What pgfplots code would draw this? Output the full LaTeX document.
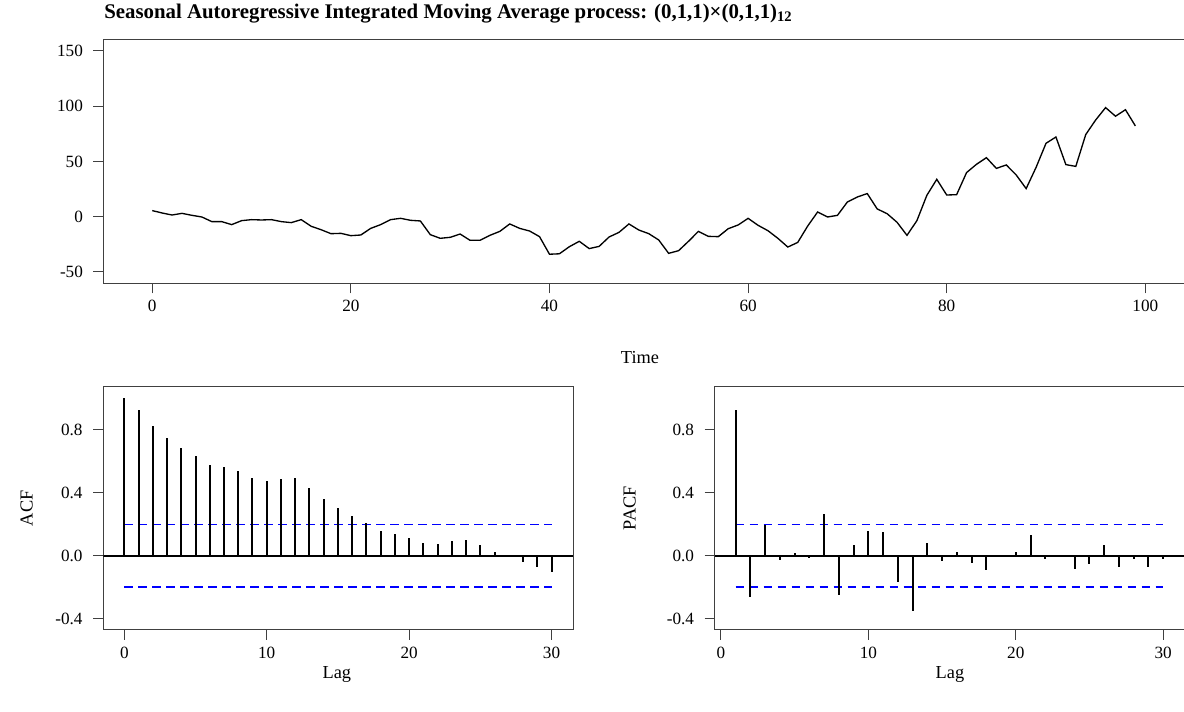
\documentclass[border=0pt]{standalone}
\usepackage{fontspec}
\setmainfont{Liberation Serif}
\usepackage{pgfplots}
\usepackage{pgfplotstable}
\pgfplotsset{compat=1.18}
\pgfplotstableread{
t v
0 5.5
1 3.3
2 1.5
3 3.0
4 1.2
5 -0.3
6 -4.5
7 -4.5
8 -7.2
9 -3.6
10 -2.7
11 -3.0
12 -2.7
13 -4.5
14 -5.4
15 -2.7
16 -8.7
17 -11.8
18 -15.4
19 -15.1
20 -17.2
21 -16.6
22 -10.6
23 -7.2
24 -2.7
25 -1.5
26 -3.3
27 -3.9
28 -16.3
29 -19.6
30 -18.7
31 -15.7
32 -21.4
33 -21.4
34 -16.9
35 -13.3
36 -6.6
37 -10.6
38 -13.0
39 -18.1
40 -34.0
41 -33.6
42 -27.2
43 -22.3
44 -28.9
45 -26.9
46 -18.4
47 -14.2
48 -6.6
49 -12.1
50 -15.4
51 -21.1
52 -33.2
53 -30.8
54 -22.3
55 -13.3
56 -17.8
57 -18.1
58 -10.9
59 -7.5
60 -1.5
61 -7.8
62 -12.7
63 -19.6
64 -27.5
65 -23.3
66 -8.5
67 4.2
68 -0.3
69 1.2
70 13.3
71 17.8
72 20.9
73 7.0
74 2.7
75 -5.1
76 -16.9
77 -3.6
78 19.3
79 33.8
80 19.6
81 19.9
82 39.9
83 47.4
84 53.4
85 43.7
86 46.8
87 37.7
88 25.4
89 44.6
90 66.4
91 72.1
92 47.1
93 45.5
94 74.3
95 87.5
96 98.7
97 90.9
98 96.8
99 82.1
}\series
\pgfplotstableread{
lag acf
0 1.000
1 0.925
2 0.821
3 0.745
4 0.684
5 0.631
6 0.578
7 0.561
8 0.538
9 0.493
10 0.474
11 0.487
12 0.493
13 0.432
14 0.358
15 0.303
16 0.252
17 0.206
18 0.159
19 0.140
20 0.114
21 0.081
22 0.074
23 0.091
24 0.102
25 0.068
26 0.025
27 0.002
28 -0.038
29 -0.070
30 -0.102
}\acftab
\pgfplotstableread{
lag pacf
1 0.925
2 -0.260
3 0.195
4 -0.027
5 0.019
6 -0.013
7 0.265
8 -0.251
9 0.068
10 0.157
11 0.150
12 -0.165
13 -0.351
14 0.079
15 -0.032
16 0.021
17 -0.044
18 -0.091
19 0.003
20 0.023
21 0.129
22 -0.021
23 -0.002
24 -0.084
25 -0.055
26 0.066
27 -0.070
28 -0.021
29 -0.070
30 -0.021
}\pacftab
\pgfplotsset{
 rstyle/.style={
  scale only axis,
  anchor=south west,
  axis line style={black!75, line width=0.6pt},
  every tick/.style={black!75, line width=0.6pt},
  major tick length=6pt,
  tick align=outside,
  xtick pos=bottom, ytick pos=left,
  ticklabel style={font=\fontsize{10.3}{12}\selectfont, text=black},
  /pgf/number format/assume math mode=true,
  xticklabel style={anchor=north, yshift=-0.8pt},
  yticklabel style={anchor=east, xshift=-2.9pt},
  every axis x label/.style={font=\fontsize{11}{13}\selectfont, anchor=center},
  every axis y label/.style={font=\fontsize{11}{13}\selectfont, anchor=center, rotate=90},
 },
 corrstyle/.style={
  rstyle,
  height=145.98pt,
  ymin=-0.4717, ymax=1.073,
  ytick={-0.4,0,0.4,0.8},
  yticklabel style={/pgf/number format/.cd, fixed, fixed zerofill, precision=1},
  xtick={0,10,20,30},
  xlabel={Lag},
 },
}
\begin{document}
\begin{tikzpicture}
\useasboundingbox (0,0) rectangle (710.4pt,427.2pt);
% top: time series
\begin{axis}[rstyle,
  at={(61.98pt,257.22pt)},
  width=652.02pt, height=145.98pt,
  xmin=-4.93, xmax=104.5, ymin=-60.3, ymax=159.9,
  xtick={0,20,40,60,80,100}, ytick={-50,0,50,100,150},
  xticklabel style={yshift=0.4pt},
  yticklabel style={xshift=0.2pt},
  xlabel={Time},
  xlabel style={at={(axis description cs:0.4939,-0.306)}},
]
\addplot[black, line width=0.8pt] table[x=t, y=v] {\series};
\end{axis}
% ACF
\begin{axis}[corrstyle,
  at={(61.98pt,49.2pt)},
  width=282pt,
  xmin=-1.475, xmax=31.53,
  xlabel style={at={(axis description cs:0.497,-0.181)}},
  ylabel={ACF},
  ylabel style={at={(axis description cs:-0.163,0.5)}},
]
\addplot[black, line width=1pt] coordinates {(-1.475,0) (31.53,0)};
\addplot[blue, line width=1pt, dash pattern=on 5pt off 3.4pt] coordinates {(0,0.197) (30,0.197)};
\addplot[blue, line width=1pt, dash pattern=on 5pt off 3.4pt] coordinates {(0,-0.197) (30,-0.197)};
\addplot[ycomb, black, line width=1.2pt, mark=none] table[x=lag, y=acf] {\acftab};
\end{axis}
% PACF
\begin{axis}[corrstyle,
  at={(428.82pt,49.2pt)},
  width=285.18pt,
  xmin=-0.427, xmax=31.82,
  xlabel style={at={(axis description cs:0.495,-0.181)}},
  ylabel={PACF},
  ylabel style={at={(axis description cs:-0.179,0.5)}},
]
\addplot[black, line width=1pt] coordinates {(-0.427,0) (31.82,0)};
\addplot[blue, line width=1pt, dash pattern=on 5pt off 3.4pt] coordinates {(1,0.197) (30,0.197)};
\addplot[blue, line width=1pt, dash pattern=on 5pt off 3.4pt] coordinates {(1,-0.197) (30,-0.197)};
\addplot[ycomb, black, line width=1.2pt, mark=none] table[x=lag, y=pacf] {\pacftab};
\end{axis}
\node[anchor=base west, inner sep=0pt, font=\bfseries\fontsize{12.5}{14}\selectfont] at (62.4pt,415.8pt)
  {Seasonal Autoregressive Integrated Moving Average process: (0,1,1)×(0,1,1)\textsubscript{12}};
\end{tikzpicture}
\end{document}
